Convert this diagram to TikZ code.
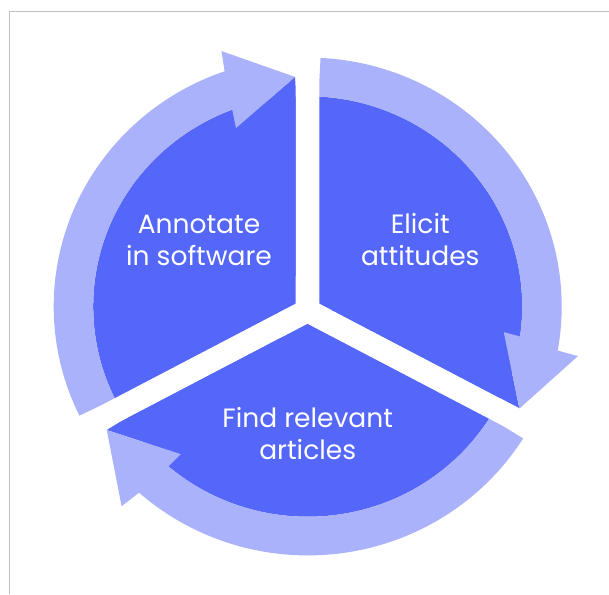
\documentclass[tikz,border=0pt]{standalone}
\usepackage{fontspec}
\setmainfont{Poppins}
\definecolor{segdark}{RGB}{84,103,249}
\definecolor{seglight}{RGB}{169,178,250}
\definecolor{framegray}{RGB}{190,190,196}
\begin{document}
\begin{tikzpicture}[x=1pt,y=1pt,
  lbl/.style={text=white, font=\fontsize{26.5}{31}\selectfont, inner sep=0pt, anchor=base},
  ring/.style={shift={(307.7,287.5)}, yscale=0.98}]
\useasboundingbox (0,0) rectangle (609,594);
\fill[white] (0,0) rectangle (609,594);
\draw[framegray, line width=0.8pt] (9.3,0) -- (9.3,582.6) -- (609,582.6);

% Annotate segment (left)
\begin{scope}
\clip (295.7,290.5) -- (295.7,700) -- (-200,700) -- (-200,58.85) -- (-147.4,58.85) -- cycle;
\begin{scope}[ring]
\fill[segdark] (0,0) circle[radius=214.5];
\fill[segdark] (0,0) -- (93.1:234.6) -- (111.5:195.7) -- cycle;
\fill[seglight] (206:254) arc[start angle=206, end angle=109.1, radius=254]
  -- (108.3:274.5) -- (93.1:234.6) -- (111.5:195.7) -- (110.6:214.5)
  arc[start angle=110.6, end angle=206, radius=214.5] -- cycle;
\end{scope}
\end{scope}

% Elicit segment (right)
\begin{scope}
\clip (319.3,290.5) -- (319.3,700) -- (800,700) -- (800,58.85) -- (762.4,58.85) -- cycle;
\begin{scope}[ring]
\fill[segdark] (0,0) circle[radius=214.5];
\fill[segdark] (0,0) -- (-26.2:235.9) -- (-7.6:197.8) -- cycle;
\fill[seglight] (87.1:254) arc[start angle=87.1, end angle=-10.2, radius=254]
  -- (-10.6:275) -- (-26.2:235.9) -- (-7.6:197.8) -- (-8.2:214.5)
  arc[start angle=-8.2, end angle=87.1, radius=214.5] -- cycle;
\end{scope}
\end{scope}

% Find segment (bottom)
\begin{scope}
\clip (307.5,270.1) -- (-135.6,38.45) -- (-135.6,-100) -- (750.6,-100) -- (750.6,38.45) -- cycle;
\begin{scope}[ring]
\fill[segdark] (0,0) circle[radius=214.5];
\fill[segdark] (0,0) -- (212.1:237.2) -- (229.9:197) -- cycle;
\fill[seglight] (328:254) arc[start angle=328, end angle=228.4, radius=254]
  -- (227.6:276) -- (212.1:237.2) -- (229.9:197) -- (229.5:214.5)
  arc[start angle=229.5, end angle=328, radius=214.5] -- cycle;
\end{scope}
\end{scope}

\node[lbl] (ann1) at (199,360) {Annotate};
\node[lbl] (ann2) at (199,328.3) {in software};
\node[lbl] (eli1) at (420.3,360) {Elicit};
\node[lbl] (eli2) at (420.3,328.3) {attitudes};
\node[lbl] (fin1) at (307.7,166.3) {Find relevant};
\node[lbl] (fin2) at (307.7,135) {articles};
\end{tikzpicture}
\end{document}
